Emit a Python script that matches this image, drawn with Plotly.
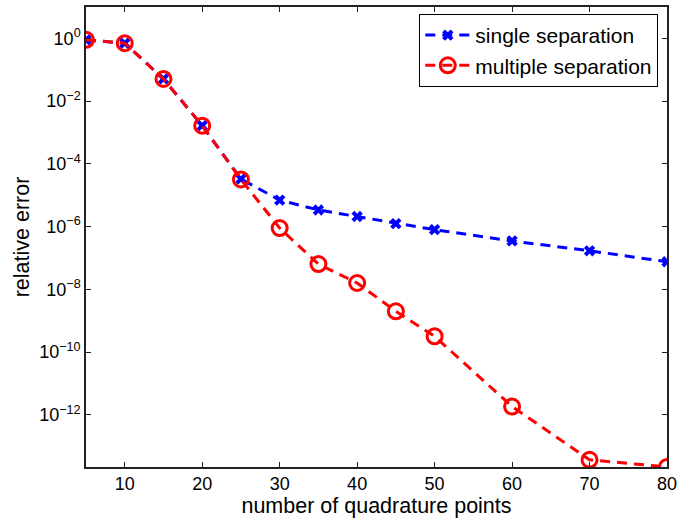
import plotly.graph_objects as go

x_points = [5, 10, 15, 20, 25, 30, 35, 40, 45, 50, 60, 70, 80]
single_sep = [0.9, 0.7, 0.051, 1.65e-3, 3.3e-5, 7.0e-6, 3.4e-6, 2.1e-6, 1.25e-6, 8.0e-7, 3.5e-7, 1.7e-7, 7.6e-8]
multiple_sep = [0.9, 0.7, 0.051, 1.65e-3, 3.2e-5, 9.0e-7, 6.4e-8, 1.6e-8, 2.0e-9, 3.2e-10, 1.85e-12, 3.7e-14, 2.2e-14]

x_ticks = [10, 20, 30, 40, 50, 60, 70, 80]
y_exponents = [0, -2, -4, -6, -8, -10, -12]
y_tickvals = [10.0 ** e for e in y_exponents]
y_ticktext = ["10<sup>%s</sup>" % (str(e).replace("-", "\u2212")) for e in y_exponents]

font_family = "Liberation Sans, Arial, Helvetica, sans-serif"

fig = go.Figure()
fig.add_trace(go.Scatter(
    x=x_points, y=single_sep, mode="lines+markers", name="single separation",
    line=dict(color="#0000ff", width=3, dash="10px,7px"),
    marker=dict(symbol="x", size=10, color="#0000ff", line=dict(width=0)),
))
fig.add_trace(go.Scatter(
    x=x_points, y=multiple_sep, mode="lines+markers", name="multiple separation",
    line=dict(color="#ff0000", width=3, dash="10px,7px"),
    marker=dict(symbol="circle-open", size=15, color="#ff0000", line=dict(width=3, color="#ff0000")),
))

fig.update_layout(
    width=682, height=523,
    margin=dict(l=86, r=10, t=5, b=56),
    paper_bgcolor="white", plot_bgcolor="white",
    font=dict(family=font_family, size=18, color="#000000"),
    showlegend=True,
    legend=dict(
        x=0.985, y=0.985, xanchor="right", yanchor="top",
        bgcolor="white", bordercolor="#000000", borderwidth=1,
        font=dict(size=21), tracegroupgap=0, itemwidth=45,
    ),
    xaxis=dict(
        range=[5, 80], tickvals=x_ticks, ticks="inside", ticklen=5, tickcolor="#222",
        tickfont=dict(size=18), ticklabeloverflow="allow",
        showline=True, linecolor="#222", linewidth=1.5, mirror="ticks",
        showgrid=False, zeroline=False,
        title=dict(text="number of quadrature points", font=dict(size=21.5), standoff=4),
    ),
    yaxis=dict(
        type="log", range=[-13.66, 1.0], tickvals=y_tickvals, ticktext=y_ticktext,
        ticks="inside", ticklen=5, tickcolor="#222",
        tickfont=dict(size=18), ticklabeloverflow="allow",
        showline=True, linecolor="#222", linewidth=1.5, mirror="ticks",
        showgrid=False, zeroline=False,
        title=dict(text="relative error", font=dict(size=21.5), standoff=4),
    ),
)

fig.write_html("out.html")
